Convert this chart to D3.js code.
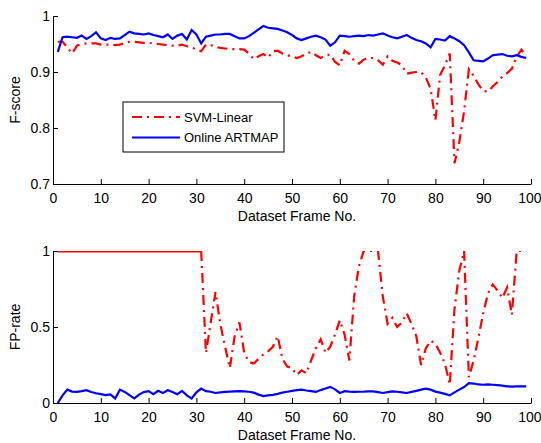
<!DOCTYPE html>
<html>
<head>
<meta charset="utf-8">
<script src="https://cdn.jsdelivr.net/npm/d3@7"></script>
<style>
  body { margin: 0; background: #fff; }
  text { font-family: "Liberation Sans", Arial, sans-serif; font-size: 14px; fill: #000; }
  .axis path, .axis line { stroke: #000; }
</style>
</head>
<body>
<div id="chart"></div>
<script>
// frame numbers 1..99
var frames = d3.range(1, 100);

var fscoreSvm = [0.954,0.954,0.944,0.933,0.947,0.950,0.951,0.951,0.951,0.949,
  0.949,0.949,0.948,0.949,0.952,0.954,0.954,0.953,0.952,0.952,
  0.951,0.950,0.949,0.948,0.947,0.947,0.949,0.946,0.944,0.940,
  0.937,0.949,0.948,0.945,0.943,0.942,0.941,0.941,0.941,0.940,
  0.933,0.923,0.928,0.932,0.926,0.937,0.938,0.933,0.930,0.928,
  0.925,0.928,0.933,0.936,0.930,0.925,0.930,0.931,0.918,0.912,
  0.938,0.932,0.920,0.915,0.922,0.925,0.925,0.921,0.913,0.928,
  0.920,0.917,0.912,0.897,0.899,0.900,0.900,0.890,0.870,0.814,
  0.895,0.912,0.933,0.737,0.775,0.830,0.905,0.893,0.878,0.866,
  0.865,0.874,0.882,0.892,0.898,0.906,0.927,0.940,0.928];

var fscoreArtmap = [0.936,0.962,0.963,0.962,0.961,0.965,0.959,0.964,0.971,0.960,
  0.957,0.961,0.959,0.960,0.966,0.972,0.969,0.968,0.967,0.969,
  0.966,0.964,0.962,0.967,0.959,0.965,0.968,0.958,0.975,0.967,
  0.951,0.963,0.965,0.967,0.967,0.968,0.968,0.964,0.960,0.960,
  0.964,0.970,0.976,0.982,0.979,0.978,0.977,0.974,0.971,0.966,
  0.960,0.957,0.960,0.963,0.965,0.962,0.958,0.947,0.953,0.965,
  0.964,0.963,0.964,0.965,0.964,0.966,0.965,0.967,0.969,0.965,
  0.962,0.960,0.963,0.966,0.961,0.957,0.955,0.951,0.944,0.959,
  0.958,0.956,0.964,0.960,0.955,0.948,0.935,0.921,0.920,0.919,
  0.924,0.930,0.931,0.932,0.929,0.928,0.930,0.927,0.925];

var fpSvm = [1,1,1,1,1,1,1,1,1,1,
  1,1,1,1,1,1,1,1,1,1,
  1,1,1,1,1,1,1,1,1,1,
  1,0.33,0.53,0.73,0.52,0.37,0.23,0.44,0.53,0.33,
  0.27,0.26,0.29,0.32,0.34,0.37,0.44,0.29,0.24,0.23,
  0.185,0.215,0.195,0.28,0.36,0.42,0.33,0.37,0.45,0.545,
  0.45,0.28,0.70,0.90,1,1,1,1,0.70,0.52,
  0.56,0.50,0.53,0.59,0.52,0.44,0.25,0.36,0.41,0.39,
  0.33,0.26,0.12,0.62,0.87,1,0.17,0.28,0.43,0.59,
  0.72,0.78,0.74,0.69,0.76,0.58,1,1,1];

var fpArtmap = [0.0,0.05,0.088,0.075,0.073,0.078,0.084,0.072,0.064,0.058,
  0.052,0.056,0.03,0.088,0.073,0.052,0.03,0.055,0.072,0.078,
  0.058,0.08,0.066,0.084,0.073,0.058,0.08,0.05,0.03,0.07,
  0.095,0.078,0.074,0.066,0.07,0.073,0.075,0.077,0.078,0.077,
  0.074,0.068,0.055,0.045,0.05,0.054,0.06,0.068,0.074,0.08,
  0.085,0.088,0.082,0.078,0.073,0.085,0.095,0.106,0.09,0.066,
  0.078,0.075,0.073,0.074,0.075,0.077,0.077,0.072,0.066,0.072,
  0.077,0.074,0.07,0.066,0.073,0.08,0.088,0.095,0.088,0.075,
  0.068,0.06,0.05,0.07,0.088,0.105,0.13,0.128,0.122,0.12,
  0.122,0.12,0.118,0.114,0.11,0.108,0.11,0.11,0.11];

var xTicks = [0,10,20,30,40,50,60,70,80,90,100];
var fTicks = [0.7,0.8,0.9,1];
var fpTicks = [0,0.5,1];
var legendNames = ["SVM-Linear", "Online ARTMAP"];

var width = 541, height = 443;
var red = "#ff0000", blue = "#0000ff";
var dashDot = "10,5,2,5";

var svg = d3.select("#chart").append("svg")
    .attr("width", width)
    .attr("height", height);

var xScale = d3.scaleLinear().domain([0, 100]).range([53, 531]);

function panel(id, yDomain, yRange, yTicks, yLabel, svmVals, artVals, splitSolid) {
    var yScale = d3.scaleLinear().domain(yDomain).range(yRange);

    svg.append("clipPath").attr("id", id)
        .append("rect")
        .attr("x", xScale(0)).attr("y", yRange[1])
        .attr("width", xScale(100) - xScale(0))
        .attr("height", yRange[0] - yRange[1]);

    var line = d3.line()
        .x(d => xScale(d[0]))
        .y(d => yScale(d[1]));

    var svmPts = frames.map((f, i) => [f, svmVals[i]]);
    var artPts = frames.map((f, i) => [f, artVals[i]]);

    var g = svg.append("g").attr("clip-path", `url(#${id})`);

    var dashed = splitSolid ? svmPts.filter(d => d[0] >= splitSolid) : svmPts;
    if (splitSolid) {
        // flat part on the top edge shows as a thin solid line
        g.append("path")
            .datum(svmPts.filter(d => d[0] <= splitSolid))
            .attr("d", line)
            .attr("fill", "none")
            .attr("stroke", red)
            .attr("stroke-width", 3);
    }
    g.append("path")
        .datum(dashed)
        .attr("d", line)
        .attr("fill", "none")
        .attr("stroke", red)
        .attr("stroke-width", 2.2)
        .attr("stroke-dasharray", dashDot);

    g.append("path")
        .datum(artPts)
        .attr("d", line)
        .attr("fill", "none")
        .attr("stroke", blue)
        .attr("stroke-width", 2.2);

    var xAxis = svg.append("g")
        .attr("class", "axis")
        .attr("transform", `translate(0,${yRange[0]})`)
        .call(d3.axisBottom(xScale).tickValues(xTicks).tickSizeInner(-5).tickSizeOuter(0).tickPadding(9));

    // last label sits at the window edge, keep it inside
    xAxis.selectAll(".tick text")
        .filter(d => d == 100)
        .attr("text-anchor", "end")
        .attr("dx", "10");

    svg.append("g")
        .attr("class", "axis")
        .attr("transform", `translate(${xScale(0)},0)`)
        .call(d3.axisLeft(yScale).tickValues(yTicks).tickFormat(d3.format("")).tickSizeInner(-5).tickSizeOuter(0).tickPadding(3));

    svg.selectAll(".axis text")
        .style("font-family", "'Liberation Sans', Arial, sans-serif")
        .style("font-size", "14px")
        .attr("fill", "#000");
    svg.selectAll(".axis .domain").attr("stroke", "#000");

    svg.append("text")
        .attr("x", (xScale(0) + xScale(100)) / 2 + 5)
        .attr("y", yRange[0] + 37)
        .attr("text-anchor", "middle")
        .text("Dataset Frame No.");

    svg.append("text")
        .attr("transform", `translate(20,${(yRange[0] + yRange[1]) / 2})rotate(-90)`)
        .attr("text-anchor", "middle")
        .text(yLabel);
}

panel("clipTop", [0.7, 1], [184, 16], fTicks, "F-score", fscoreSvm, fscoreArtmap, 0);
panel("clipBottom", [0, 1], [403, 251], fpTicks, "FP-rate", fpSvm, fpArtmap, 31);

// legend
var legend = svg.append("g").attr("transform", "translate(123,102)");
legend.append("rect")
    .attr("width", 161).attr("height", 50)
    .attr("fill", "#fff").attr("stroke", "#000");

legendNames.forEach(function(name, i) {
    var yy = 15 + i * 20.5;
    legend.append("line")
        .attr("x1", 9).attr("x2", 57)
        .attr("y1", yy).attr("y2", yy)
        .attr("stroke", i == 0 ? red : blue)
        .attr("stroke-width", 2.2)
        .attr("stroke-dasharray", i == 0 ? dashDot : null);
    legend.append("text")
        .attr("x", 61).attr("y", yy)
        .attr("dy", "0.35em")
        .style("font-size", "13px")
        .text(name);
});
</script>
</body>
</html>
